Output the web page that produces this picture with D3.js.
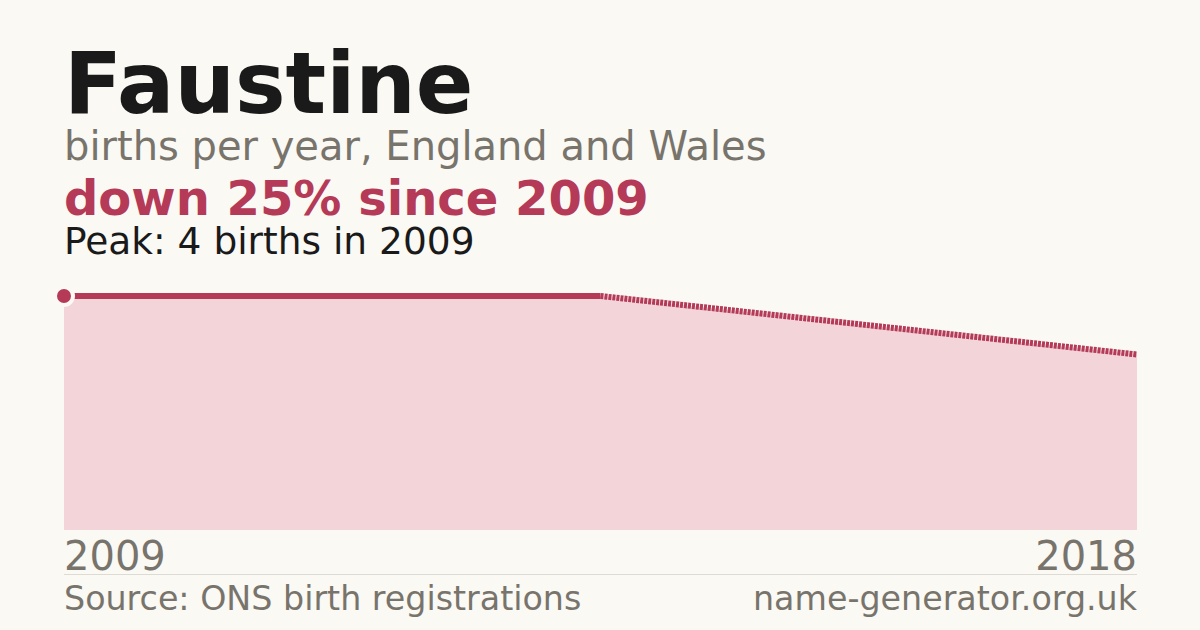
<!DOCTYPE html>
<html><head><meta charset="utf-8">
<script src="https://cdn.jsdelivr.net/npm/d3@7"></script>
<style>html,body{margin:0;padding:0;background:#faf9f4;}svg{display:block;font-family:"DejaVu Sans",sans-serif;}</style>
</head><body>
<svg id="c" width="1200" height="630"></svg>
<script>
const years = [2009, 2010, 2018];
const births = [4, 4, 3];
const tickLabels = ["2009", "2018"];
const title = "Faustine";
const subtitle = "births per year, England and Wales";
const change = "down 25% since 2009";
const peak = "Peak: 4 births in 2009";
const source = "Source: ONS birth registrations";
const site = "name-generator.org.uk";

const svg = d3.select("#c");
svg.append("rect").attr("width",1200).attr("height",630).attr("fill","#faf9f4");
const L = 64, R = 1137, T = 296, B = 530;
const x = d3.scalePoint().domain(years).range([L, R]);
const y = d3.scaleLinear().domain([0, d3.max(births)]).range([B, T]);
const data = years.map((yr,i)=>({yr, v:births[i]}));
const red = "#b53a58";

svg.append("path").datum(data)
  .attr("d", d3.area().x(d=>x(d.yr)).y0(B).y1(d=>y(d.v)))
  .attr("fill","#f2d4d9");

for (let i=0;i<data.length-1;i++){
  const a=data[i], b=data[i+1];
  const gap = b.yr - a.yr > 1;
  svg.append("path").datum([a,b])
    .attr("d", d3.line().x(d=>x(d.yr)).y(d=>y(d.v)))
    .attr("fill","none").attr("stroke",red).attr("stroke-width",6)
    .attr("stroke-dasharray", gap ? "3,1" : null);
}
const pk = data[d3.maxIndex(data, d=>d.v)];
svg.append("circle").attr("cx",x(pk.yr)).attr("cy",y(pk.v)).attr("r",9)
  .attr("fill",red).attr("stroke","#faf9f4").attr("stroke-width",4);

const txt=(s,xx,yy,size,fill,weight,anchor)=>svg.append("text").text(s)
  .attr("x",xx).attr("y",yy).attr("font-size",size).attr("fill",fill)
  .attr("font-weight",weight||"normal").attr("text-anchor",anchor||"start");

txt(title, L, 113, 85, "#1a1a1a", "bold");
txt(subtitle, L, 160, 40, "#78746c");
txt(change, L, 215, 48, red, "bold");
txt(peak, L, 254, 37.5, "#1a1a1a");

const ax = d3.scaleLinear().domain([+tickLabels[0], +tickLabels[1]]).range([L,R]);
tickLabels.forEach((t,i)=>txt(t, ax(+t), 570, 40, "#78746c", "normal", i===0?"start":"end"));
svg.append("line").attr("x1",L).attr("x2",R).attr("y1",574.5).attr("y2",574.5)
  .attr("stroke","#dedbd4").attr("stroke-width",1);
txt(source, L, 610, 33.3, "#78746c");
txt(site, R, 610, 33.3, "#78746c", "normal", "end");
</script>
</body></html>
